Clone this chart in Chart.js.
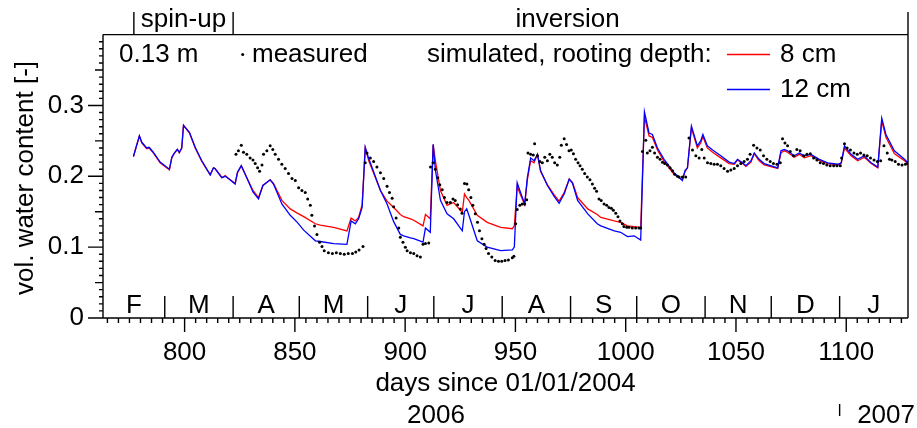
<!DOCTYPE html>
<html>
<head>
<meta charset="utf-8">
<script src="https://cdn.jsdelivr.net/npm/chart.js@4.4.1/dist/chart.umd.min.js"></script>
<style>html,body{margin:0;padding:0;background:#fff}canvas{display:block}</style>
</head>
<body>
<canvas id="chart" width="917" height="428"></canvas>
<script>
const FONT = '"Liberation Sans", Arial, sans-serif';

// simulated water content (days since 01/01/2004)
const simDays = [776.8, 779.5, 780.6, 782.8, 783.9, 785.8, 788.9, 793.1, 794.2, 795.2, 796.7, 797.6, 798.7, 799.5,
  802.2, 804.8, 807.8, 811.6, 813.1, 813.8, 816.1, 816.9, 818.4, 819.9, 822.9, 824, 825.7, 828.2, 831, 833.5,
  835.5, 838.8, 840.3, 844.1, 847.9, 851.1, 854, 859.3, 861.5, 867.6, 873.6, 875.5, 877.4, 878.9, 880.5, 881.9,
  883.5, 888.8, 891.8, 894.8, 897.8, 899.3, 902.4, 903.9, 908.1, 909.2, 911.4, 912.7, 913.7, 916, 919, 922,
  925.9, 926.9, 927.9, 928.9, 932.7, 937.2, 943.3, 948.6, 949.5, 950.8, 952, 954.2, 955.4, 956.9, 958.4, 960,
  961.4, 964.5, 967.5, 969.8, 972.1, 974.4, 975.9, 978.2, 982.8, 987.1, 988.7, 994.8, 997.7, 1000.8, 1003.8,
  1006.8, 1008.5, 1010.6, 1012.1, 1014.4, 1017.4, 1021.9, 1025.7, 1026.9, 1028, 1029.8, 1032.5, 1034, 1035,
  1037, 1039.4, 1043.1, 1046.9, 1049.2, 1050.7, 1053, 1054.5, 1056.8, 1058.3, 1060.5, 1062.8, 1068.9, 1070.4,
  1071.9, 1073.4, 1076.4, 1078.7, 1081, 1084, 1087.8, 1091.6, 1096.2, 1097.7, 1099.2, 1102.2, 1105.2, 1108.2,
  1111.3, 1114.3, 1116.1, 1118, 1121.8, 1126.4, 1127.9];
const sim8cm = [0.228, 0.257, 0.247, 0.239, 0.240, 0.233, 0.219, 0.209, 0.226, 0.232, 0.238, 0.233, 0.240, 0.272,
  0.261, 0.240, 0.221, 0.202, 0.212, 0.211, 0.202, 0.198, 0.201, 0.197, 0.190, 0.205, 0.215, 0.198, 0.180, 0.170,
  0.187, 0.195, 0.190, 0.166, 0.154, 0.148, 0.143, 0.133, 0.131, 0.128, 0.123, 0.141, 0.137, 0.142, 0.160, 0.240,
  0.222, 0.180, 0.165, 0.156, 0.146, 0.143, 0.140, 0.138, 0.130, 0.146, 0.140, 0.245, 0.222, 0.180, 0.159, 0.163,
  0.149, 0.175, 0.170, 0.166, 0.145, 0.135, 0.128, 0.126, 0.130, 0.186, 0.176, 0.160, 0.195, 0.222, 0.219, 0.231,
  0.207, 0.188, 0.174, 0.165, 0.177, 0.196, 0.191, 0.170, 0.154, 0.146, 0.142, 0.137, 0.135, 0.130, 0.129,
  0.128, 0.284, 0.257, 0.255, 0.237, 0.221, 0.203, 0.195, 0.207, 0.212, 0.268, 0.240, 0.247, 0.256,
  0.240, 0.234, 0.226, 0.218, 0.217, 0.223, 0.218, 0.214, 0.220, 0.232, 0.222, 0.216, 0.211, 0.233,
  0.236, 0.234, 0.227, 0.231, 0.226, 0.229, 0.222, 0.218, 0.216, 0.218, 0.240, 0.229, 0.222, 0.227,
  0.218, 0.212, 0.278, 0.255, 0.232, 0.222, 0.218];
const sim12cm = [0.228, 0.257, 0.248, 0.240, 0.241, 0.234, 0.220, 0.210, 0.227, 0.232, 0.238, 0.234, 0.240, 0.272,
  0.262, 0.241, 0.222, 0.202, 0.212, 0.211, 0.201, 0.198, 0.200, 0.197, 0.189, 0.206, 0.215, 0.198, 0.178, 0.168,
  0.187, 0.195, 0.189, 0.161, 0.145, 0.135, 0.124, 0.109, 0.108, 0.105, 0.104, 0.137, 0.133, 0.140, 0.156, 0.241,
  0.225, 0.180, 0.161, 0.136, 0.118, 0.116, 0.113, 0.112, 0.107, 0.127, 0.121, 0.245, 0.209, 0.166, 0.147, 0.140,
  0.123, 0.150, 0.154, 0.145, 0.109, 0.100, 0.095, 0.096, 0.100, 0.191, 0.180, 0.161, 0.198, 0.226, 0.222, 0.231,
  0.208, 0.187, 0.172, 0.162, 0.175, 0.196, 0.190, 0.166, 0.147, 0.133, 0.130, 0.123, 0.121, 0.115, 0.116,
  0.110, 0.291, 0.261, 0.259, 0.240, 0.224, 0.205, 0.194, 0.208, 0.212, 0.271, 0.243, 0.250, 0.259,
  0.243, 0.237, 0.229, 0.220, 0.218, 0.224, 0.219, 0.215, 0.222, 0.233, 0.224, 0.218, 0.212, 0.236,
  0.238, 0.236, 0.229, 0.233, 0.229, 0.231, 0.224, 0.219, 0.217, 0.219, 0.243, 0.231, 0.224, 0.229,
  0.219, 0.213, 0.282, 0.259, 0.236, 0.224, 0.219];

// measured water content at 0.13 m
const measDays = [823.3, 824.4, 825.7, 826.7, 828.2, 829.7, 831, 832, 833.1, 834, 835.1, 835.8, 837.3, 838.8, 840,
  841.1, 842.6, 844.1, 845.6, 847.1, 848.7, 850.2, 851.7, 853.2, 854.7, 855.8, 857, 857.7, 858.9, 860, 861.2,
  862.3, 863.3, 865.2, 867, 868.8, 870.6, 872.4, 874.2, 876.1, 877.6, 879.1, 880.9, 881.9, 882.7, 884.2, 885.7,
  887.2, 888.8, 890.3, 891.8, 892.9, 894.1, 894.8, 895.9, 897.1, 897.8, 899, 900.1, 900.9, 902.4, 903.9, 905.4,
  906.9, 908.1, 909.2, 910.7, 911.5, 912.7, 913.7, 914.8, 915.7, 916.8, 917.8, 919, 920.5, 921.7, 922.7, 923.8,
  925, 925.8, 926.9, 928, 928.8, 929.8, 930.7, 931.8, 932.8, 933.7, 934.8, 935.8, 936.7, 937.8, 939.3, 940.8,
  942.3, 943.8, 945.3, 946.8, 948.6, 949.3, 950.1, 950.8, 952, 953.1, 954.2, 955.1, 955.7, 956.9, 958.1, 958.7,
  960, 961.1, 962.2, 963.3, 964.5, 965.6, 966.7, 967.8, 969, 970.1, 970.8, 972.1, 973.2, 974.3, 975.3, 976.3,
  977.3, 978.4, 979.3, 980.3, 981.4, 982.6, 983.8, 984.9, 985.9, 986.8, 987.9, 988.9, 990.2, 991.4, 992.4,
  993.5, 994.4, 995.5, 996.5, 997.4, 998.5, 999.2, 1000.5, 1001.5, 1003, 1004.5, 1006, 1006.8, 1007.6, 1009.1,
  1009.8, 1011, 1012.1, 1013.1, 1014.4, 1015.6, 1016.7, 1017.7, 1018.9, 1020.1, 1021.2, 1022.2, 1023.5, 1024.2,
  1025.7, 1027.2, 1028.7, 1030.3, 1031.8, 1033.3, 1034.5, 1035.6, 1037.1, 1038.6, 1040.1, 1041.6, 1043.1,
  1044.6, 1046.2, 1047.7, 1049.2, 1050.7, 1052.2, 1053.7, 1055.2, 1056.4, 1058, 1059.5, 1061, 1062.5, 1064,
  1065.5, 1067, 1068.6, 1070.1, 1071.1, 1072.2, 1073.4, 1074.6, 1076.1, 1077.6, 1079.1, 1080.7, 1082.2, 1083.7,
  1085.2, 1086.7, 1088.2, 1089.7, 1091.2, 1092.7, 1094.3, 1095.8, 1097.3, 1097.9, 1099.2, 1100.4, 1101.9,
  1103.5, 1105, 1106.5, 1108, 1109.5, 1111, 1112.6, 1114.1, 1115.6, 1117.1, 1118.6, 1119.6, 1120.7, 1122.2,
  1123.7, 1125.3, 1126.8, 1127.8];
const measured = [0.231, 0.236, 0.244, 0.234, 0.231, 0.226, 0.223, 0.218, 0.212, 0.207, 0.216, 0.231, 0.236, 0.243, 0.238,
  0.231, 0.224, 0.217, 0.211, 0.204, 0.197, 0.194, 0.184, 0.180, 0.177, 0.168, 0.159, 0.145, 0.130, 0.118, 0.107,
  0.101, 0.095, 0.092, 0.091, 0.092, 0.091, 0.090, 0.091, 0.091, 0.093, 0.096, 0.101, 0.219, 0.233, 0.226, 0.221,
  0.213, 0.205, 0.197, 0.186, 0.177, 0.169, 0.157, 0.141, 0.127, 0.114, 0.107, 0.100, 0.095, 0.092, 0.091, 0.088,
  0.086, 0.104, 0.105, 0.106, 0.213, 0.219, 0.210, 0.198, 0.188, 0.181, 0.170, 0.163, 0.163, 0.168, 0.166, 0.160,
  0.154, 0.148, 0.190, 0.189, 0.181, 0.170, 0.159, 0.147, 0.135, 0.123, 0.112, 0.104, 0.098, 0.091, 0.086, 0.081,
  0.080, 0.080, 0.081, 0.082, 0.085, 0.087, 0.133, 0.153, 0.159, 0.161, 0.161, 0.167, 0.233, 0.231, 0.230, 0.246,
  0.229, 0.221, 0.219, 0.227, 0.222, 0.231, 0.227, 0.219, 0.216, 0.227, 0.244, 0.253, 0.245, 0.236, 0.237, 0.232,
  0.224, 0.219, 0.215, 0.210, 0.204, 0.199, 0.195, 0.189, 0.183, 0.179, 0.168, 0.166, 0.161, 0.159, 0.156,
  0.155, 0.152, 0.148, 0.143, 0.137, 0.133, 0.129, 0.128, 0.128, 0.127, 0.127, 0.127, 0.127, 0.235, 0.251,
  0.233, 0.236, 0.241, 0.233, 0.227, 0.224, 0.220, 0.218, 0.216, 0.212, 0.208, 0.203, 0.200, 0.199,
  0.199, 0.199, 0.254, 0.237, 0.229, 0.226, 0.238, 0.226, 0.219, 0.218, 0.217, 0.217, 0.215,
  0.211, 0.207, 0.209, 0.211, 0.215, 0.218, 0.221, 0.224, 0.231, 0.244, 0.240, 0.237, 0.229, 0.224,
  0.221, 0.218, 0.217, 0.219, 0.253, 0.247, 0.243, 0.235, 0.229, 0.238, 0.236, 0.229, 0.231, 0.232,
  0.226, 0.223, 0.219, 0.218, 0.216, 0.215, 0.215, 0.215, 0.215, 0.226, 0.246, 0.240, 0.237,
  0.233, 0.231, 0.233, 0.230, 0.229, 0.226, 0.223, 0.221, 0.222, 0.243, 0.233, 0.224, 0.223, 0.221,
  0.217, 0.216, 0.217, 0.218];

const xTicks = [800, 850, 900, 950, 1000, 1050, 1100];
const yTicks = [0, 0.1, 0.2, 0.3];
const monthStarts = [763, 791, 822, 852, 883, 913, 944, 975, 1005, 1036, 1066, 1097, 1128];
const monthLetters = ['F', 'M', 'A', 'M', 'J', 'J', 'A', 'S', 'O', 'N', 'D', 'J'];
const phaseNames = ['spin-up', 'inversion'];
const phaseBounds = [777, 822, 1128];
const yearNames = ['2006', '2007'];
const yearStarts = [731, 1097];

const toXY = (xs, ys) => xs.map((d, i) => ({ x: d, y: ys[i] }));

const decor = {
  id: 'decor',
  afterDraw(chart) {
    const { ctx, chartArea: a, scales: { x, y } } = chart;
    ctx.save();
    ctx.strokeStyle = '#000';
    ctx.fillStyle = '#000';
    ctx.lineWidth = 1.4;
    const line = (x1, y1, x2, y2) => { ctx.moveTo(x1, y1); ctx.lineTo(x2, y2); };

    ctx.beginPath();
    // frame, right edge reaching up into the phase bar
    line(a.left, a.top, a.right, a.top);
    line(a.left, a.top, a.left, a.bottom);
    line(a.left, a.bottom, a.right, a.bottom);
    line(a.right, 12, a.right, a.bottom);
    // y ticks
    for (let i = 0; i < 40; i++) {
      const len = i % 10 === 0 ? 15 : i % 5 === 0 ? 8 : 4;
      const py = y.getPixelForValue(i / 100);
      line(a.left - len, py, a.left, py);
    }
    // x ticks every 5 days
    for (let d = 765; d < 1128; d += 5) {
      const len = d % 50 === 0 ? 14 : 5;
      const px = x.getPixelForValue(d);
      line(px, a.bottom, px, a.bottom + len);
    }
    // month separators
    monthStarts.slice(1, -1).forEach(d => {
      const px = x.getPixelForValue(d);
      line(px, a.bottom - 22, px, a.bottom);
    });
    // phase markers
    phaseBounds.slice(0, -1).forEach(d => {
      const px = x.getPixelForValue(d);
      line(px, 12, px, a.top);
    });
    // year marker
    const yx = x.getPixelForValue(yearStarts[1]);
    line(yx, 404, yx, 416);
    ctx.stroke();

    ctx.font = '26px ' + FONT;
    ctx.textBaseline = 'alphabetic';
    ctx.textAlign = 'center';
    monthLetters.forEach((m, i) => {
      ctx.fillText(m, x.getPixelForValue((monthStarts[i] + monthStarts[i + 1]) / 2), 313);
    });
    phaseNames.forEach((p, i) => {
      ctx.fillText(p, (x.getPixelForValue(phaseBounds[i]) + x.getPixelForValue(phaseBounds[i + 1])) / 2 - (i ? 3 : 0), 27);
    });
    ctx.fillText('days since 01/01/2004', (a.left + a.right) / 2, 391);
    ctx.fillText(yearNames[0], x.getPixelForValue((yearStarts[0] + yearStarts[1]) / 2), 423);
    ctx.textAlign = 'right';
    ctx.fillText(yearNames[1], 915, 423);

    // legend
    ctx.textAlign = 'left';
    ctx.fillText('0.13 m', 119, 62);
    ctx.beginPath();
    ctx.arc(242.7, 54.5, 1.5, 0, Math.PI * 2);
    ctx.fill();
    ctx.fillText('measured', 252, 62);
    ctx.fillText('simulated, rooting depth:', 427, 62);
    ctx.fillText('8 cm', 780, 62);
    ctx.fillText('12 cm', 780, 97);
    ctx.lineWidth = 1.3;
    ctx.strokeStyle = '#ff0000';
    ctx.beginPath(); line(727, 54.5, 770, 54.5); ctx.stroke();
    ctx.strokeStyle = '#0000ff';
    ctx.beginPath(); line(727, 89.5, 770, 89.5); ctx.stroke();

    // y title
    ctx.translate(33, 178);
    ctx.rotate(-Math.PI / 2);
    ctx.textAlign = 'center';
    ctx.fillText('vol. water content [-]', 0, 0);
    ctx.restore();
  }
};

new Chart(document.getElementById('chart'), {
  type: 'scatter',
  data: {
    datasets: [
      { label: 'measured', data: toXY(measDays, measured), showLine: false, order: 0,
        pointRadius: 1.5, pointBorderWidth: 0, pointBackgroundColor: '#000' },
      { label: '8 cm', data: toXY(simDays, sim8cm), showLine: true, borderColor: '#ff0000', order: 2,
        borderWidth: 1.3, pointRadius: 0, tension: 0 },
      { label: '12 cm', data: toXY(simDays, sim12cm), showLine: true, borderColor: '#0000ff', order: 1,
        borderWidth: 1.3, pointRadius: 0, tension: 0 }
    ]
  },
  options: {
    responsive: false,
    animation: false,
    devicePixelRatio: 1,
    layout: { padding: { left: 0, right: 9, top: 34, bottom: 0 } },
    plugins: { legend: { display: false }, tooltip: { enabled: false } },
    scales: {
      x: {
        type: 'linear', min: 763, max: 1128,
        grid: { display: false, drawTicks: false },
        border: { display: false },
        afterBuildTicks: s => { s.ticks = xTicks.map(v => ({ value: v })); },
        afterFit: s => { s.height = 110; },
        ticks: { color: '#000', padding: 19, maxRotation: 0, autoSkip: false,
          font: { family: FONT, size: 26 }, callback: v => String(v) }
      },
      y: {
        min: 0, max: 0.4,
        grid: { display: false, drawTicks: false },
        border: { display: false },
        afterBuildTicks: s => { s.ticks = yTicks.map(v => ({ value: v })); },
        afterFit: s => { s.width = 103; },
        ticks: { color: '#000', padding: 19, font: { family: FONT, size: 26 },
          callback: v => v === 0 ? '0' : v.toFixed(1) }
      }
    }
  },
  plugins: [decor]
});
</script>
</body>
</html>
